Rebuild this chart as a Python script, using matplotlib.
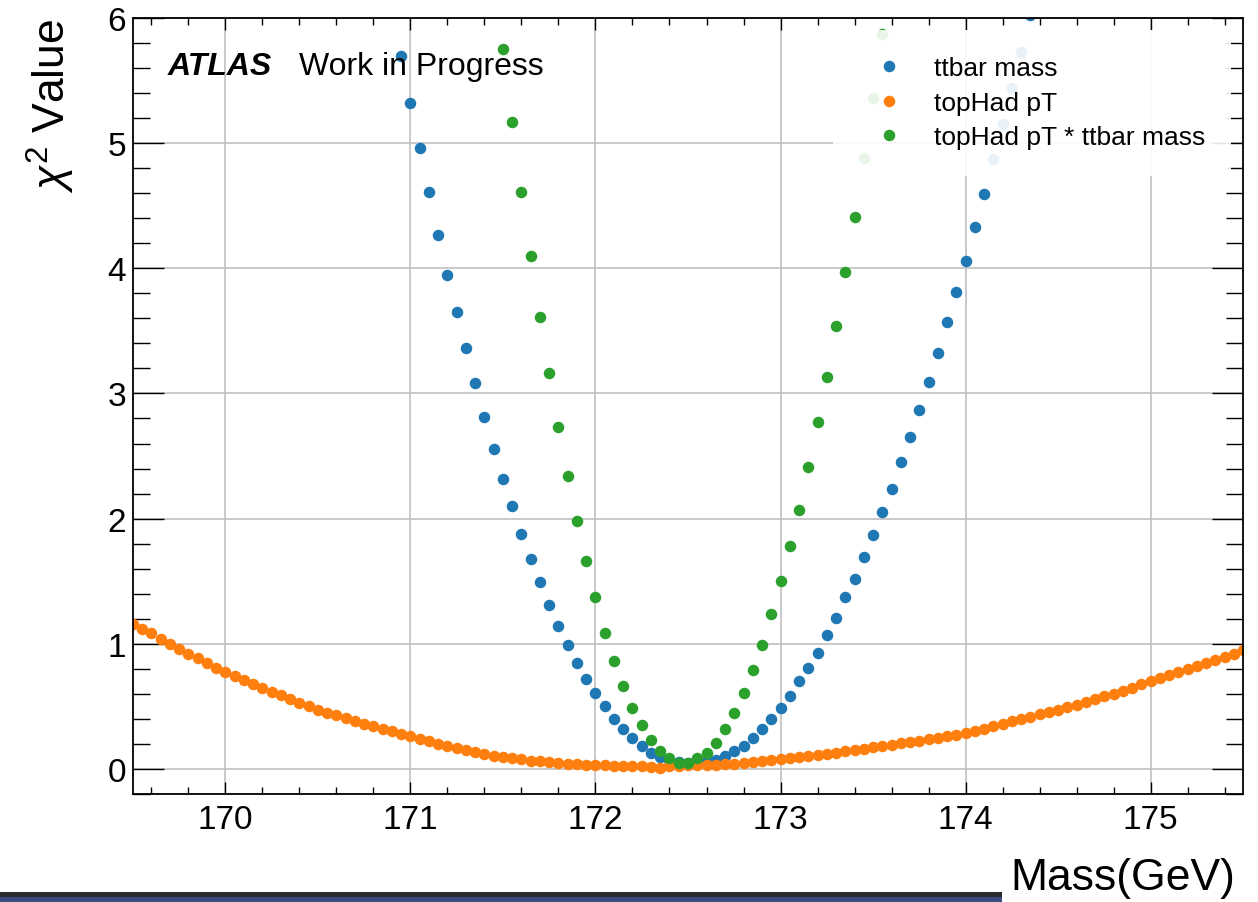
import numpy as np
import matplotlib
matplotlib.use("Agg")
import matplotlib.pyplot as plt
from matplotlib.ticker import MultipleLocator, AutoMinorLocator
from matplotlib.patches import Rectangle

plt.rcParams['font.family'] = ['Liberation Sans', 'DejaVu Sans']
plt.rcParams['mathtext.fontset'] = 'custom'
plt.rcParams['mathtext.rm'] = 'Liberation Sans'
plt.rcParams['mathtext.it'] = 'Liberation Sans:italic'

# chi2 scans, mass points every 0.05 GeV
mass_tophad = np.linspace(169.5, 175.5, 121)
chi2_tophad = [
    1.160, 1.120, 1.085, 1.040, 0.995, 0.955, 0.915, 0.885, 0.850, 0.810,
    0.775, 0.745, 0.710, 0.680, 0.645, 0.612, 0.590, 0.562, 0.525, 0.500,
    0.475, 0.450, 0.430, 0.408, 0.382, 0.360, 0.340, 0.320, 0.300, 0.282,
    0.262, 0.240, 0.222, 0.202, 0.182, 0.166, 0.148, 0.134, 0.118, 0.106,
    0.094, 0.085, 0.076, 0.067, 0.060, 0.053, 0.047, 0.042, 0.037, 0.034,
    0.031, 0.028, 0.027, 0.026, 0.024, 0.023, 0.019, 0.006, 0.026, 0.027,
    0.029, 0.031, 0.033, 0.035, 0.037, 0.042, 0.049, 0.056, 0.063, 0.069,
    0.076, 0.084, 0.093, 0.101, 0.110, 0.119, 0.130, 0.140, 0.151, 0.162,
    0.172, 0.182, 0.193, 0.204, 0.214, 0.226, 0.238, 0.250, 0.262, 0.275,
    0.288, 0.305, 0.322, 0.340, 0.362, 0.384, 0.400, 0.418, 0.436, 0.454,
    0.472, 0.492, 0.514, 0.535, 0.557, 0.579, 0.602, 0.626, 0.650, 0.675,
    0.700, 0.724, 0.748, 0.772, 0.796, 0.820, 0.845, 0.870, 0.895, 0.920,
    0.948,
]

mass_ttbar = np.linspace(170.95, 174.35, 69)
chi2_ttbar = [
    5.70, 5.32, 4.96, 4.61, 4.27, 3.95, 3.65, 3.36, 3.08, 2.81,
    2.56, 2.32, 2.10, 1.88, 1.68, 1.49, 1.31, 1.14, 0.99, 0.85,
    0.72, 0.61, 0.50, 0.40, 0.32, 0.245, 0.18, 0.13, 0.093, 0.068,
    0.052, 0.045, 0.050, 0.062, 0.075, 0.100, 0.140, 0.185, 0.245, 0.32,
    0.40, 0.49, 0.58, 0.70, 0.81, 0.93, 1.07, 1.21, 1.37, 1.52,
    1.69, 1.87, 2.05, 2.24, 2.45, 2.65, 2.87, 3.09, 3.32, 3.57,
    3.81, 4.06, 4.33, 4.59, 4.87, 5.15, 5.44, 5.73, 6.02,
]

mass_comb = np.linspace(171.5, 173.55, 42)
chi2_comb = [
    5.75, 5.17, 4.61, 4.10, 3.61, 3.16, 2.73, 2.34, 1.98, 1.66,
    1.37, 1.09, 0.86, 0.66, 0.49, 0.35, 0.23, 0.14, 0.09, 0.05,
    0.05, 0.09, 0.13, 0.21, 0.32, 0.45, 0.61, 0.79, 0.99, 1.24,
    1.50, 1.78, 2.07, 2.41, 2.77, 3.13, 3.54, 3.97, 4.41, 4.88,
    5.36, 5.87,
]

fig = plt.figure(figsize=(12.58, 9.03), dpi=100)
ax = fig.add_axes([0.1057, 0.1196, 0.8824, 0.8594])

ms = 8.3
ax.plot(mass_ttbar, chi2_ttbar, 'o', color='C0', ms=ms, mew=0, label='ttbar mass')
ax.plot(mass_tophad, chi2_tophad, 'o', color='C1', ms=ms, mew=0, label='topHad pT')
ax.plot(mass_comb, chi2_comb, 'o', color='C2', ms=ms, mew=0, label='topHad pT * ttbar mass')

ax.set_xlim(169.5, 175.5)
ax.set_ylim(-0.2, 6)
ax.xaxis.set_major_locator(MultipleLocator(1))
ax.xaxis.set_minor_locator(AutoMinorLocator(5))
ax.yaxis.set_major_locator(MultipleLocator(1))
ax.yaxis.set_minor_locator(AutoMinorLocator(5))

ax.grid(True, which='major', color='#c0c0c0', lw=1.2)
ax.set_axisbelow(True)

ax.tick_params(which='both', direction='in', top=True, right=True, width=1.0, colors='black')
ax.tick_params(axis='x', which='major', length=8.5, pad=7, labelsize=24)
ax.tick_params(axis='x', which='minor', length=5)
ax.tick_params(axis='y', which='major', length=22, pad=5, labelsize=24)
ax.tick_params(axis='y', which='minor', length=12)
for sp in ax.spines.values():
    sp.set_linewidth(1.3)

ax.set_xlabel('Mass(GeV)', fontsize=32, loc='right', labelpad=16)
ax.set_ylabel(r'$\chi^2$ Value', fontsize=32, loc='top', labelpad=22)
ax.xaxis.label.set_x(0.993)

ax.text(0.031, 0.928, 'ATLAS', transform=ax.transAxes, fontsize=23,
        fontweight='bold', fontstyle='italic', va='baseline')
ax.text(0.150, 0.928, 'Work in Progress', transform=ax.transAxes, fontsize=23,
        va='baseline')

leg = ax.legend(loc='upper right', fontsize=19, frameon=True, framealpha=0.9,
                edgecolor='none', fancybox=False, borderpad=1.0,
                handlelength=2.2, handletextpad=0.6, labelspacing=0.4,
                borderaxespad=0.45)
leg.get_frame().set_facecolor('white')

# strip along the bottom edge
fig.add_artist(Rectangle((0, 0), 1002 / 1258, 5 / 903, transform=fig.transFigure,
                         color='#3c4a7e', lw=0))
fig.add_artist(Rectangle((0, 5 / 903), 1002 / 1258, 5 / 903, transform=fig.transFigure,
                         color='#2c2c30', lw=0))

fig.savefig('out.png', dpi=100)
